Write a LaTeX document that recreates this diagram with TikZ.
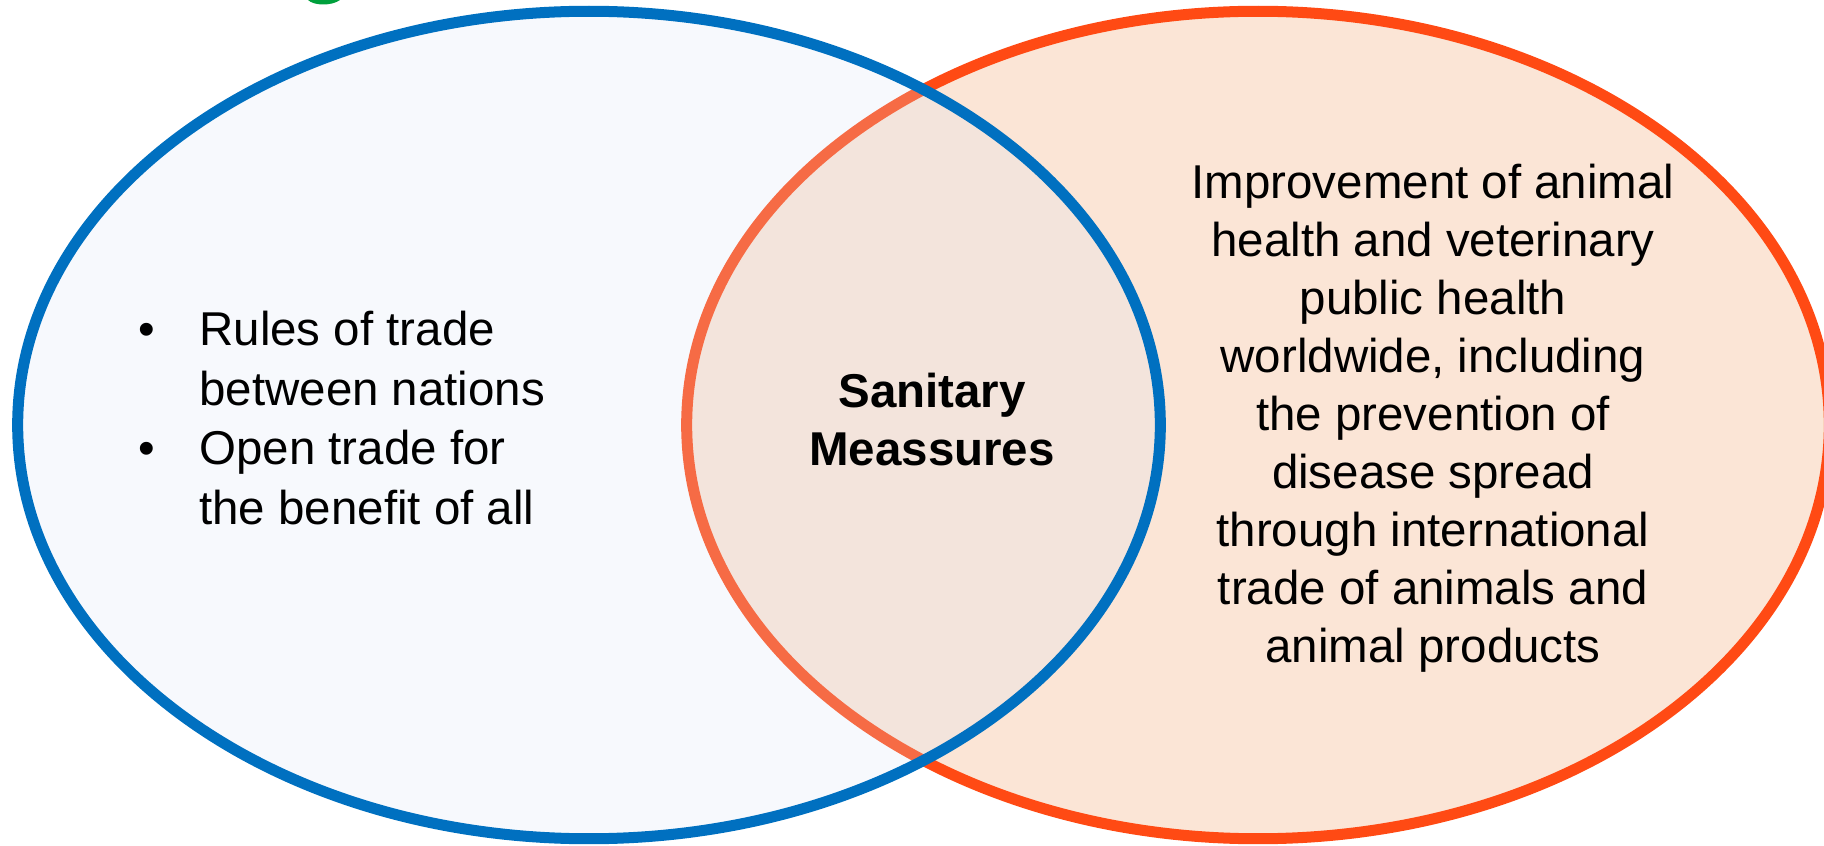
\documentclass[tikz,border=0pt]{standalone}
\usepackage{fontspec}
\setmainfont{Liberation Sans}
\usetikzlibrary{positioning,shapes.geometric}
\definecolor{tradeblue}{HTML}{0070C0}
\definecolor{healthred}{HTML}{FF4A14}
\definecolor{healthfill}{HTML}{FBE5D6}
\definecolor{tradefill}{RGB}{218,228,245}
\definecolor{logogreen}{HTML}{00A03C}
\tikzset{
  venn/.style={ellipse, minimum width=11.42cm, minimum height=8.27cm, inner sep=0pt, line width=1.1mm},
  vtext/.style={font=\fontsize{13.5pt}{16.5pt}\selectfont, inner sep=0pt, text=black}
}

\begin{document}
\begin{tikzpicture}[x=0.01cm, y=-0.01cm]
\useasboundingbox (0,0) rectangle (1824,846);
\fill[logogreen] (308,0) .. controls (314,6) and (332,6) .. (340,0) -- cycle;
\node[venn, draw=healthred, fill=healthfill] (oie) at (1258,425) {};
\node[venn, draw=tradeblue, fill=tradefill, fill opacity=0.22, draw opacity=1] (wto) at (589,425) {};
\node[vtext, anchor=west, font=\fontsize{13.5pt}{16.9pt}\selectfont] (wtogoal) at (138,423) {\begin{tabular}{@{}l@{\hspace{0.44cm}}l@{}}
\textbullet & Rules of trade\\
 & between nations\\
\textbullet & Open trade for\\
 & the benefit of all
\end{tabular}};
\node[vtext, align=center, font=\fontsize{13.5pt}{16.5pt}\selectfont\bfseries] (sps) at (932,420) {Sanitary\\Meassures};
\node[vtext, align=center] (oiegoal) at (1433,418) {Improvement of animal\\health and veterinary\\public health\\worldwide, including\\the prevention of\\disease spread\\through international\\trade of animals and\\animal products};
\end{tikzpicture}
\end{document}
